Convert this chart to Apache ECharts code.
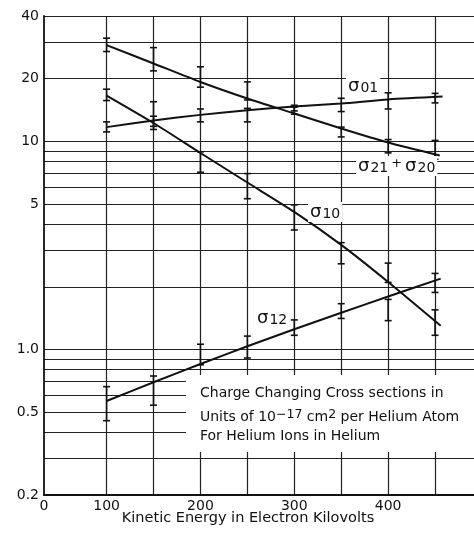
<!DOCTYPE html>
<html><head><meta charset="utf-8">
<script src="https://cdn.jsdelivr.net/npm/echarts@6/dist/echarts.min.js"></script>
<style>html,body{margin:0;padding:0;background:#fff}#c{width:474px;height:533px}</style>
</head><body><div id="c"></div>
<script>
// ---- axis settings / tick labels ----
const X_MIN = 33.3, X_MAX = 491.5;
const xGridValues = [100,150,200,250,300,350,400,450];
const xLabelValues = [X_MIN,100,200,300,400];
const xLabelText = ['0','100','200','300','400'];
const yGridValues = [0.2,0.3,0.4,0.5,0.6,0.7,0.8,0.9,1,2,3,4,5,6,7,8,9,10,20,30,40];
const yLabelValues = [0.2,0.5,1,5,10,20,40];
const yLabelText = ['0.2','0.5','1.0','5','10','20','40'];

// ---- measured points (error bars) ----
const energies = [100,150,200,250,300,350,400,450];
const err2120Low  = [27.0,21.8,18.2,15.8,13.5,10.5,8.8,8.2];
const err2120High = [31.3,28.2,22.8,19.3,14.6,11.7,10.2,10.1];
const err01Low  = [11.1,11.4,12.4,12.4,14.0,13.9,14.3,15.3];
const err01High = [12.4,13.2,14.3,14.4,14.9,16.1,17.1,17.0];
const err10Low  = [15.7,11.8,7.1,5.3,3.75,2.58,2.1,1.17];
const err10High = [17.8,15.5,8.9,7.0,4.95,3.26,2.6,1.55];
const err12Low  = [0.455,0.54,0.844,0.91,1.17,1.41,1.376,1.88];
const err12High = [0.663,0.746,1.06,1.16,1.387,1.66,1.74,2.32];

// ---- fitted curves ----
const curve2120X = [100,150,200,250,300,350,400,455];
const curve2120  = [29.0,23.66,19.28,16.06,13.61,11.53,9.87,8.55];
const curve01X = [100,150,200,250,300,350,400,458];
const curve01  = [11.7,12.6,13.4,14.1,14.7,15.2,15.9,16.4];
const curve10X = [100,150,200,250,300,350,400,456];
const curve10  = [16.6,12.25,8.79,6.34,4.58,3.18,2.11,1.30];
const curve12X = [100,150,200,250,300,350,400,456];
const curve12  = [0.566,0.696,0.852,1.036,1.251,1.501,1.796,2.191];

const FONT = 'DejaVu Sans';
const INK = '#111';

function pairs(xs, ys){ return xs.map((x,i)=>[x, ys[i]]); }
function bars(lo, hi){ return energies.map((x,i)=>[x, lo[i], hi[i]]); }
function nearestLabel(v, vals, txt){
  let best = 0, bd = Infinity;
  vals.forEach((u,i)=>{ const d = Math.abs(Math.log(u) - Math.log(v)); if (d < bd){bd=d;best=i;} });
  return bd < 0.05 ? txt[best] : '';
}
function errRender(params, api){
  const x = api.value(0), lo = api.value(1), hi = api.value(2);
  const p1 = api.coord([x, lo]), p2 = api.coord([x, hi]);
  const w = 3.5;
  const style = {stroke: INK, lineWidth: 1.6};
  return {type:'group', children:[
    {type:'line', shape:{x1:p1[0],y1:p1[1],x2:p2[0],y2:p2[1]}, style},
    {type:'line', shape:{x1:p1[0]-w,y1:p1[1],x2:p1[0]+w,y2:p1[1]}, style},
    {type:'line', shape:{x1:p2[0]-w,y1:p2[1],x2:p2[0]+w,y2:p2[1]}, style}
  ]};
}
function curveSeries(name, xs, ys){
  return {name, type:'line', data: pairs(xs, ys), smooth: 0.25, showSymbol:false, symbol:'none',
    lineStyle:{color: INK, width: 2}, z: 5, silent: true};
}
function errSeries(name, lo, hi){
  return {name, type:'custom', data: bars(lo, hi), renderItem: errRender,
    encode:{x:0, y:[1,2]}, z: 6, silent: true};
}

const sigRich = {
  s: {fontSize: 18, fontFamily: FONT, fill: INK, verticalAlign:'top', lineHeight: 18},
  b: {fontSize: 14, fontFamily: FONT, fill: INK, verticalAlign:'bottom', lineHeight: 14, padding:[8,0,0,1]},
  p: {fontSize: 13, fontFamily: FONT, fill: INK, verticalAlign:'top', lineHeight: 13, padding:[0,3,0,3]}
};
function sigLabel(text, x, y){
  return {type:'text', x, y, z: 60, silent:true,
    style:{text, rich: sigRich, verticalAlign:'top', align:'left', backgroundColor:'#fff', padding:[1,2,1,2]}};
}

const chart = echarts.init(document.getElementById('c'), null, {renderer:'canvas'});
chart.setOption({
  animation: false,
  backgroundColor: '#fff',
  grid: {left: 44, right: 0, top: 16, bottom: 38, containLabel: false, outerBoundsMode: 'none'},
  xAxis: {
    type: 'value', min: X_MIN, max: X_MAX,
    axisLine: {show: true, onZero: false, lineStyle: {color: INK, width: 1.8}},
    axisTick: {show: false, customValues: xGridValues},
    splitLine: {show: true, lineStyle: {color: '#222', width: 1.2}},
    axisLabel: {customValues: xLabelValues, color: INK, fontSize: 14, fontFamily: FONT, margin: 4,
      formatter: v => { let i = xLabelValues.findIndex(u => Math.abs(u - v) < 1); return i >= 0 ? xLabelText[i] : ''; }},
    name: 'Kinetic Energy in Electron Kilovolts', nameLocation: 'middle', nameGap: 16, nameMoveOverlap: false,
    nameTextStyle: {color: INK, fontSize: 14.5, fontFamily: FONT, padding: [0, 22, 0, 0]}
  },
  yAxis: {
    type: 'log', logBase: 10, min: 0.2, max: 40,
    axisLine: {show: true, lineStyle: {color: INK, width: 1.8}},
    axisTick: {show: false, customValues: yGridValues},
    splitLine: {show: true, lineStyle: {color: '#222', width: 1.2}},
    axisLabel: {customValues: yLabelValues, color: INK, fontSize: 14, fontFamily: FONT, margin: 5,
      formatter: v => nearestLabel(v, yLabelValues, yLabelText)}
  },
  series: [
    curveSeries('σ21+σ20', curve2120X, curve2120),
    curveSeries('σ01', curve01X, curve01),
    curveSeries('σ10', curve10X, curve10),
    curveSeries('σ12', curve12X, curve12),
    errSeries('σ21+σ20 data', err2120Low, err2120High),
    errSeries('σ01 data', err01Low, err01High),
    errSeries('σ10 data', err10Low, err10High),
    errSeries('σ12 data', err12Low, err12High)
  ],
  graphic: [
    sigLabel('{s|σ}{b|01}', 346, 76),
    sigLabel('{s|σ}{b|21}{p|+}{s|σ}{b|20}', 356, 156),
    sigLabel('{s|σ}{b|10}', 308, 202),
    sigLabel('{s|σ}{b|12}', 255, 308),
    {type:'rect', z: 40, silent:true, shape:{x:186, y:375, width:290, height:77}, style:{fill:'#fff'}},
    {type:'text', x: 200, y: 393, z: 61, silent:true,
      style:{text:'Charge Changing Cross sections in', fontSize:14, fontFamily:FONT, fill:INK, verticalAlign:'middle'}},
    {type:'text', x: 200, y: 416, z: 61, silent:true,
      style:{text:'{n|Units of 10}{sup|−17}{n| cm}{sup|2}{n| per Helium Atom}', verticalAlign:'middle',
        rich:{
          n:{fontSize:14, fontFamily:FONT, fill:INK, verticalAlign:'bottom', lineHeight:16},
          sup:{fontSize:12.5, fontFamily:FONT, fill:INK, verticalAlign:'top', lineHeight:12}
        }}},
    {type:'text', x: 200, y: 436, z: 61, silent:true,
      style:{text:'For Helium Ions in Helium', fontSize:14, fontFamily:FONT, fill:INK, verticalAlign:'middle'}}
  ]
});
</script></body></html>
